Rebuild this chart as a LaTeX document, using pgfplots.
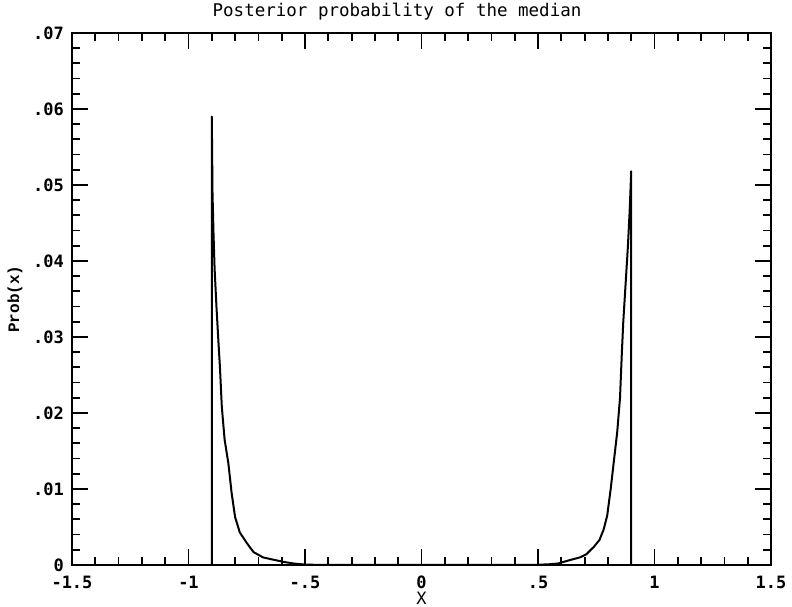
\documentclass[border=0pt]{standalone}
\usepackage{fontspec}
\setmainfont{DejaVu Sans Mono}
\newfontfamily\labfont{Liberation Mono}
\usepackage{pgfplots}
\pgfplotsset{compat=1.18}
\begin{document}
\begin{tikzpicture}
\begin{axis}[
  scale only axis, width=699pt, height=532pt,
  xmin=-1.5, xmax=1.5, ymin=0, ymax=0.07,
  xtick={-1.5,-1,-0.5,0,0.5,1,1.5},
  xticklabels={-1.5,-1,-.5,0,.5,1,1.5},
  ytick={0,0.01,0.02,0.03,0.04,0.05,0.06,0.07},
  yticklabels={0,.01,.02,.03,.04,.05,.06,.07},
  minor x tick num=4, minor y tick num=4,
  xtick pos=both, ytick pos=both,
  xticklabel pos=lower, yticklabel pos=left,
  tick align=inside,
  major tick length=16pt, minor tick length=8pt,
  axis line style={line width=2pt},
  every tick/.style={black, line width=1.8pt},
  tick label style={font=\bfseries\fontsize{17}{17}\selectfont},
  xticklabel style={anchor=center, yshift=-17pt},
  yticklabel style={anchor=east, inner sep=0pt, xshift=-8pt},
  scaled y ticks=false,
  title={Posterior probability of the median},
  title style={at={(axis description cs:0.465,1)}, anchor=base, yshift=10pt, font=\fontsize{17.5}{17.5}\selectfont},
  xlabel={X},
  xlabel style={at={(axis description cs:0.5,0)}, anchor=center, yshift=-33pt, font=\fontsize{17}{17}\selectfont},
  ylabel={Prob(x)},
  ylabel style={at={(axis description cs:0,0.5)}, anchor=center, yshift=57pt, font=\labfont\bfseries\fontsize{16}{16}\selectfont},
]
\addplot[black, line width=2pt, line join=round, sharp plot] coordinates {
(-0.9,0)
(-0.9,0.0590)
(-0.897,0.0490)
(-0.893,0.0440)
(-0.888,0.0390)
(-0.880,0.0340)
(-0.872,0.0296)
(-0.865,0.0260)
(-0.857,0.0208)
(-0.845,0.0165)
(-0.829,0.0134)
(-0.815,0.0095)
(-0.800,0.0063)
(-0.780,0.0043)
(-0.750,0.0029)
(-0.721,0.0017)
(-0.680,0.0010)
(-0.636,0.0007)
(-0.590,0.0004)
(-0.550,0.0002)
(-0.500,0.00005)
(-0.400,0)
(0.400,0)
(0.500,0.00003)
(0.550,0.0001)
(0.586,0.0002)
(0.643,0.0007)
(0.680,0.0010)
(0.707,0.0014)
(0.740,0.0024)
(0.764,0.0033)
(0.782,0.0047)
(0.797,0.0065)
(0.812,0.0100)
(0.825,0.0135)
(0.840,0.0175)
(0.852,0.0220)
(0.860,0.0280)
(0.866,0.0320)
(0.876,0.0370)
(0.886,0.0420)
(0.894,0.0470)
(0.9,0.0518)
(0.9,0)
};
\end{axis}
\pgfresetboundingbox
\path[use as bounding box] (-72pt,-42pt) rectangle (720pt,565pt);
\end{tikzpicture}
\end{document}
